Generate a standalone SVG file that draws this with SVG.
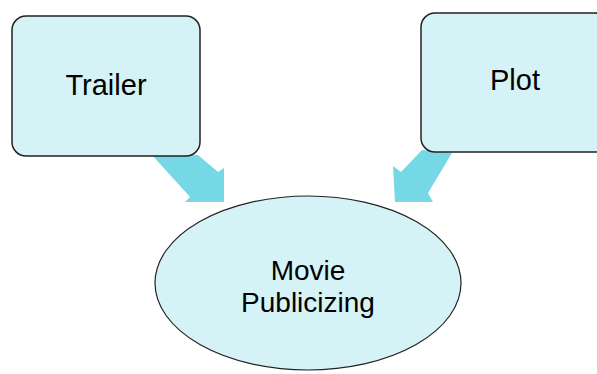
<svg xmlns="http://www.w3.org/2000/svg" width="597" height="374" viewBox="0 0 597 374">
<style>
.box{fill:#D5F2F6;stroke:#222;stroke-width:1.5}
.ell{fill:#D5F2F6;stroke:#222;stroke-width:1.2}
.arr{fill:#76D8E5;stroke:none}
.lbl{font-family:"Liberation Sans",Arial,sans-serif;font-size:29px;fill:#000;text-anchor:middle}
.sm{font-size:28px}
</style>
<rect width="597" height="374" fill="#fff"/>
<g id="connectors">
<polygon class="arr" points="152,155 198,155 218,172 224,168 224,202 185,202 190,197"/>
<polygon class="arr" points="422,150 452,153 428,193 433,202 395,202 393,166 401,172"/>
</g>
<g id="trailer">
<rect class="box" x="12" y="16" width="188" height="140" rx="14"/>
<text class="lbl" x="106" y="95">Trailer</text>
</g>
<g id="plot">
<rect class="box" x="421" y="13" width="188" height="139" rx="14"/>
<text class="lbl" x="515" y="90">Plot</text>
</g>
<g id="movie">
<ellipse class="ell" cx="308" cy="283" rx="153" ry="87"/>
<text class="lbl sm" x="308" y="280">Movie</text>
<text class="lbl sm" x="308" y="312">Publicizing</text>
</g>
</svg>
